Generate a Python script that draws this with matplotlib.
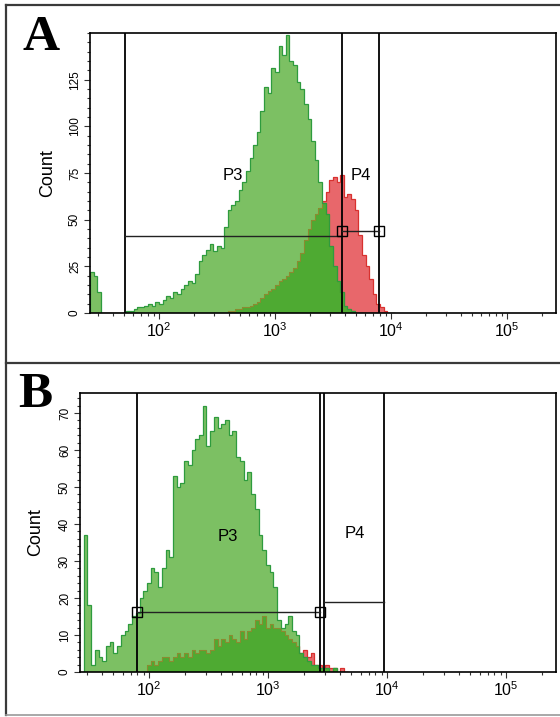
import numpy as np
import matplotlib.pyplot as plt
from matplotlib.lines import Line2D
from matplotlib.ticker import MultipleLocator, LogLocator, NullFormatter

plt.rcParams['font.family'] = ['Liberation Sans', 'DejaVu Sans']
plt.rcParams['mathtext.default'] = 'regular'

# ---- histogram counts, 32 bins per decade ----
bins_per_decade = 32

# panel A, first bin edge at 10**1.405
a_start = 1.405
green_a = [22, 20, 11, 0, 0, 0, 0, 0, 0, 0,
           1, 1, 2, 3, 3, 4, 5, 4, 6, 5,
           7, 9, 8, 11, 10, 13, 15, 17, 16, 21,
           28, 31, 34, 37, 33, 36, 35, 46, 55, 58,
           60, 66, 70, 76, 83, 90, 97, 108, 121, 118,
           131, 129, 143, 138, 149, 135, 133, 124, 120, 112,
           104, 92, 82, 70, 59, 53, 36, 25, 17, 11,
           4, 2, 1, 0, 0, 0, 0, 0, 0, 0,
           0, 0, 0, 0]
red_a = [0, 0, 0, 0, 0, 0, 0, 0, 0, 0,
         0, 0, 0, 0, 0, 0, 0, 0, 0, 0,
         0, 0, 0, 0, 0, 0, 0, 0, 0, 0,
         0, 0, 0, 0, 0, 0, 0, 0, 1, 1,
         2, 2, 3, 3, 4, 5, 6, 8, 10, 12,
         13, 15, 17, 18, 20, 22, 24, 28, 32, 39,
         45, 50, 53, 56, 60, 65, 71, 73, 70, 74,
         62, 64, 61, 55, 42, 31, 25, 18, 10, 5,
         3, 1, 0, 0]
a_yticks = [0, 25, 50, 75, 100, 125]

# panel B, first bin edge at 10**1.42
b_start = 1.42
green_b = [0, 37, 18, 2, 6, 4, 3, 7, 8, 5,
           7, 10, 11, 13, 15, 16, 20, 22, 24, 28,
           27, 23, 28, 33, 31, 53, 50, 51, 57, 56,
           60, 63, 64, 72, 61, 65, 69, 66, 67, 68,
           64, 65, 58, 57, 52, 54, 48, 44, 37, 33,
           29, 27, 23, 14, 12, 13, 15, 11, 10, 5,
           4, 3, 2, 2, 1, 1, 1, 0, 1, 0,
           0, 0]
red_b = [0, 0, 0, 0, 0, 0, 0, 0, 0, 0,
         0, 0, 0, 0, 0, 0, 0, 0, 2, 3,
         2, 3, 4, 4, 3, 4, 5, 4, 5, 4,
         6, 5, 6, 6, 5, 6, 9, 7, 9, 8,
         10, 9, 8, 11, 9, 11, 12, 14, 13, 15,
         12, 13, 12, 12, 11, 10, 9, 8, 7, 5,
         6, 4, 5, 2, 2, 1, 2, 1, 1, 0,
         1, 0]
b_yticks = [0, 10, 20, 30, 40, 50, 60, 70]

# gates (fluorescence, count level)
a_p3_left, a_p4_left, a_p4_right = 51, 3776, 7870
a_p3_level, a_p4_level = 41, 44
b_p3_left, b_p3_right, b_p4_left, b_p4_right = 79, 2735, 2953, 9441
b_p3_level, b_p4_level = 16.2, 18.9

GREEN = '#7cc063'
GREEN_EDGE = '#2e9b3e'
OVERLAP = '#4eaa32'
OLIVE = '#8c8a30'
RED = '#e8676b'
RED_EDGE = '#d8312f'


def draw_hist(ax, start, green, red):
    green = np.array(green, dtype=float)
    red = np.array(red, dtype=float)
    edges = 10 ** (start + np.arange(len(green) + 1) / bins_per_decade)
    both = np.minimum(green, red)
    ax.stairs(red, edges, fill=True, color=RED, lw=0)
    ax.stairs(red, edges, color=RED_EDGE, lw=0.9)
    ax.stairs(green, edges, fill=True, color=GREEN, lw=0)
    ax.stairs(both, edges, fill=True, color=OVERLAP, lw=0)
    ax.stairs(both, edges, color=OLIVE, lw=0.8)
    ax.stairs(green, edges, color=GREEN_EDGE, lw=0.9)


def style_axes(ax, ymax, yticks, minor):
    ax.set_xscale('log')
    ax.set_ylim(0, ymax)
    ax.set_yticks(yticks)
    ax.yaxis.set_minor_locator(MultipleLocator(minor))
    ax.xaxis.set_minor_locator(LogLocator(base=10, subs=np.arange(2, 10)))
    ax.xaxis.set_minor_formatter(NullFormatter())
    ax.tick_params(which='both', direction='out', width=0.8, colors='#333333')
    ax.tick_params(which='major', length=4)
    ax.tick_params(which='minor', length=2.2)
    ax.tick_params(axis='x', labelsize=11.5, pad=2, labelcolor='black')
    ax.tick_params(axis='y', labelsize=8.5, pad=2.5, labelcolor='black')
    for t in ax.get_yticklabels():
        t.set_rotation(90)
        t.set_va('center')
    for s in ax.spines.values():
        s.set_linewidth(1.2)
    ax.set_ylabel('Count', fontsize=13)


fig = plt.figure(figsize=(5.6, 7.17), dpi=100)

# ---------- panel A ----------
axA = fig.add_axes([90 / 560, 1 - 313 / 717, 466 / 560, 280 / 717])
draw_hist(axA, a_start, green_a, red_a)
axA.set_xlim(10 ** 1.405, 10 ** 5.422)
style_axes(axA, 150, a_yticks, 5)
axA.yaxis.set_label_coords(-0.072, 0.5)
for x in [a_p3_left, a_p4_left, a_p4_right]:
    axA.axvline(x, color='black', lw=1.3)
axA.plot([a_p3_left, a_p4_left], [a_p3_level, a_p3_level], color='#222222', lw=1)
axA.plot([a_p4_left, a_p4_right], [a_p4_level, a_p4_level], color='#222222', lw=1)
axA.plot([a_p4_left, a_p4_right], [a_p4_level, a_p4_level], 's', ms=7.5,
         mfc='none', mec='black', mew=1)
axA.text(434, 73.5, 'P3', fontsize=12, ha='center', va='center')
axA.text(5510, 73.5, 'P4', fontsize=12, ha='center', va='center')

# ---------- panel B ----------
axB = fig.add_axes([80 / 560, 1 - 672 / 717, 476 / 560, 279 / 717])
draw_hist(axB, b_start, green_b, red_b)
axB.set_xlim(10 ** 1.42, 10 ** 5.42)
style_axes(axB, 75.4, b_yticks, 2)
axB.yaxis.set_label_coords(-0.075, 0.5)
for x in [b_p3_left, b_p3_right, b_p4_left, b_p4_right]:
    axB.axvline(x, color='black', lw=1.3)
axB.plot([b_p3_left, b_p3_right], [b_p3_level, b_p3_level], color='#222222', lw=1)
axB.plot([b_p3_left, b_p3_right], [b_p3_level, b_p3_level], 's', ms=7.5,
         mfc='none', mec='black', mew=1)
axB.plot([b_p4_left, b_p4_right], [b_p4_level, b_p4_level], color='#222222', lw=1)
axB.text(461, 36.5, 'P3', fontsize=12, ha='center', va='center')
axB.text(5380, 37.3, 'P4', fontsize=12, ha='center', va='center')

# panel letters
fig.text(41 / 560, 1 - 50 / 717, 'A', fontsize=37, family='Liberation Serif',
         weight='bold', ha='center', va='baseline')
fig.text(35 / 560, 1 - 407 / 717, 'B', fontsize=37, family='Liberation Serif',
         weight='bold', ha='center', va='baseline')

# outer frame
frame = '#3a3a3a'
fig.add_artist(Line2D([6 / 560, 1], [1 - 5 / 717, 1 - 5 / 717], color=frame, lw=1.6))
fig.add_artist(Line2D([6 / 560, 6 / 560], [1 - 5 / 717, 1 - 715 / 717], color=frame, lw=1.6))
fig.add_artist(Line2D([6 / 560, 1], [1 - 363 / 717, 1 - 363 / 717], color=frame, lw=1.6))
fig.add_artist(Line2D([6 / 560, 1], [1 - 715 / 717, 1 - 715 / 717], color='#999999', lw=1.2))

fig.savefig('out.png', dpi=100)
